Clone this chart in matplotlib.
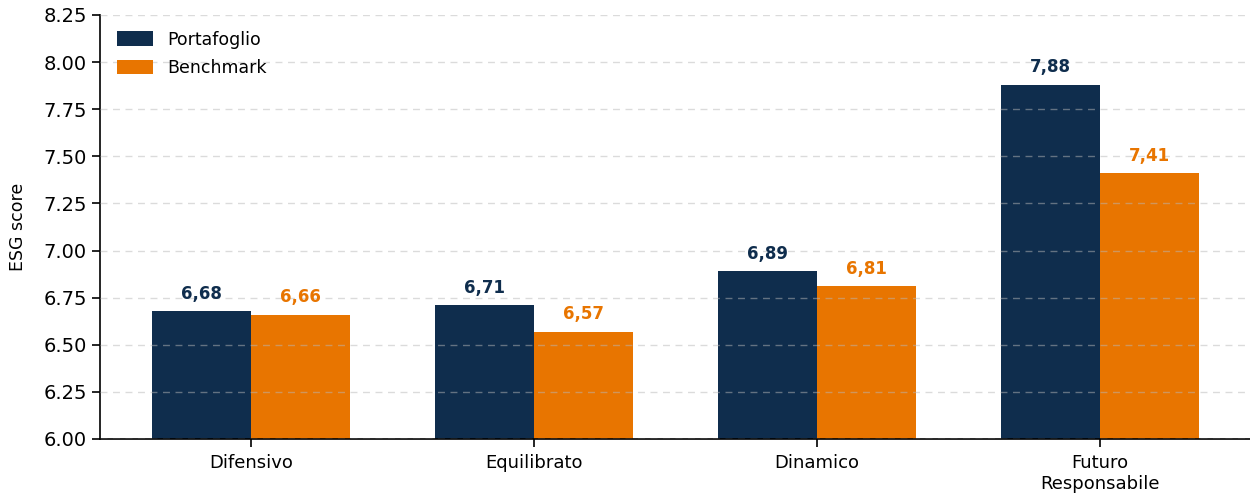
import matplotlib
matplotlib.use("Agg")
import matplotlib.pyplot as plt
import numpy as np

categories = ["Difensivo", "Equilibrato", "Dinamico", "Futuro\nResponsabile"]
portafoglio = [6.68, 6.71, 6.89, 7.88]
benchmark = [6.66, 6.57, 6.81, 7.41]
series_names = ["Portafoglio", "Benchmark"]
yticks = [6.00, 6.25, 6.50, 6.75, 7.00, 7.25, 7.50, 7.75, 8.00, 8.25]

navy = "#0f2d4d"
orange = "#e87500"

fig = plt.figure(figsize=(12.5, 4.93), dpi=100)
ax = fig.add_axes([100/1250, 1-439/493, 1151/1250, (439-15)/493])

x = np.arange(len(categories))
w = 0.35
b1 = ax.bar(x - w/2, portafoglio, w, color=navy, label=series_names[0])
b2 = ax.bar(x + w/2, benchmark, w, color=orange, label=series_names[1])

for rect, v in zip(b1, portafoglio):
    ax.annotate(f"{v:.2f}".replace(".", ","), (rect.get_x() + rect.get_width()/2, v),
                xytext=(0, 6), textcoords="offset points", ha="center", va="bottom",
                fontsize=12, fontweight="bold", color=navy)
for rect, v in zip(b2, benchmark):
    ax.annotate(f"{v:.2f}".replace(".", ","), (rect.get_x() + rect.get_width()/2, v),
                xytext=(0, 6), textcoords="offset points", ha="center", va="bottom",
                fontsize=12, fontweight="bold", color=orange)

ax.set_ylim(6.0, 8.25)
ax.set_yticks(yticks)
ax.set_yticklabels([f"{t:.2f}" for t in yticks], fontsize=14)
ax.set_xticks(x)
ax.set_xticklabels(categories, fontsize=13)
ax.set_xlim(-0.535, 3.535)
ax.set_ylabel("ESG score", fontsize=12.5, labelpad=12)
ax.yaxis.grid(True, linestyle=(0, (5, 4)), color="#b8b8b8", linewidth=1, alpha=0.5)
ax.set_axisbelow(False)
ax.spines["top"].set_visible(False)
ax.spines["right"].set_visible(False)
ax.spines["left"].set_linewidth(1.2)
ax.spines["bottom"].set_linewidth(1.2)
ax.tick_params(axis="both", length=6, width=1.2)
ax.tick_params(axis="x", pad=5)
ax.tick_params(axis="y", labelsize=14)

ax.legend(loc="upper left", frameon=False, fontsize=12.5, bbox_to_anchor=(0.001, 1.0),
          handlelength=2.1, handleheight=0.9, handletextpad=0.8, labelspacing=0.6)

fig.savefig("out.png", dpi=100)
